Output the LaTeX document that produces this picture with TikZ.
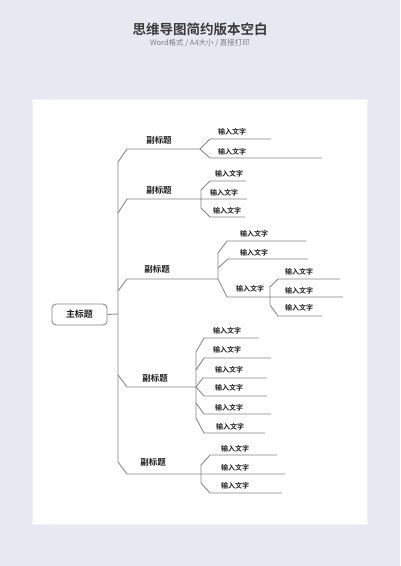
\documentclass[tikz,border=0pt]{standalone}
\usepackage{fontspec}
\newfontfamily\cjk{Noto Sans CJK SC}[BoldFont={Noto Sans CJK SC Bold}]
\definecolor{bgc}{HTML}{E7E9F0}
\definecolor{linec}{HTML}{858585}
\definecolor{txt}{HTML}{1E1E1E}
\definecolor{titlec}{HTML}{3A3A3A}
\definecolor{subc}{HTML}{7E7E7E}
\tikzset{
  conn/.style={draw=linec, line width=0.85pt, line join=round},
  leaf/.style={font=\cjk\bfseries\fontsize{7}{8}\selectfont, text=txt, inner sep=0pt},
  sub/.style={font=\cjk\bfseries\fontsize{8.5}{9}\selectfont, text=txt, inner sep=0pt},
  mainbox/.style={draw=linec, line width=0.85pt, rounded corners=4pt, fill=white,
    minimum width=55pt, minimum height=21pt, font=\cjk\bfseries\fontsize{9}{10}\selectfont, text=txt}
}
\begin{document}
\begin{tikzpicture}[x=1pt,y=-1pt]
\useasboundingbox (0,0) rectangle (400,566);
\fill[bgc] (0,0) rectangle (400,566);
\fill[black!6] (32,99) rectangle (368,525);
\fill[white] (33,100) rectangle (367,524);
% titles
\node[font=\cjk\bfseries\fontsize{13.5}{14}\selectfont, text=titlec] (title) at (200,29) {思维导图简约版本空白};
\node[font=\cjk\fontsize{7.5}{8}\selectfont, text=subc] (subtitle) at (200,43) {Word格式 / A4大小 / 直接打印};
% main
\node[mainbox] (main) at (79.5,314.5) {主标题};
\coordinate (tm) at (118,314);
\coordinate (ttop) at (118,162);
\coordinate (tbot) at (118,462);
\draw[conn] (main.east) -- (tm);
% trunk with branch 1 and 5
\coordinate (J1) at (200,149);
\coordinate (J5) at (201,474);
\coordinate (E52) at (285,474);
\draw[conn] (J1) -- (127,149) -- (ttop) -- (tbot) -- (127,474) -- (J5) -- (E52);
\node[sub] (s1) at (159,140.5) {副标题};
\node[sub] (s5) at (153,462.5) {副标题};
% branch 1 children
\coordinate (E11) at (271,139);
\coordinate (E12) at (322,158);
\draw[conn] (J1) -- (210,139) -- (E11);
\draw[conn] (J1) -- (210,158) -- (E12);
\node[leaf] (l11) at (232,131.5) {输入文字};
\node[leaf] (l12) at (232,151.5) {输入文字};
% branch 2
\coordinate (b2) at (118,213);
\coordinate (J2) at (201,199);
\coordinate (E22) at (247,199);
\coordinate (E21) at (246,181);
\coordinate (E23) at (245,217);
\draw[conn] (b2) -- (127,199) -- (J2) -- (E22);
\draw[conn] (J2) -- (201,190) -- (210,181) -- (E21);
\draw[conn] (J2) -- (201,208) -- (210,217) -- (E23);
\node[sub] (s2) at (159,190.5) {副标题};
\node[leaf] (l21) at (229,173.5) {输入文字};
\node[leaf] (l22) at (224,192.5) {输入文字};
\node[leaf] (l23) at (227,210.5) {输入文字};
% branch 3
\coordinate (b3) at (118,291);
\coordinate (J3) at (218,279);
\coordinate (E31) at (306,241);
\coordinate (E32) at (308,259);
\coordinate (J33) at (270,297);
\coordinate (G2) at (343,297);
\coordinate (G1) at (340,279);
\coordinate (G3) at (322,316);
\draw[conn] (b3) -- (127,279) -- (J3);
\draw[conn] (J3) -- (218,253) -- (227,241) -- (E31);
\draw[conn] (218,268) -- (228,259) -- (E32);
\draw[conn] (J3) -- (227,297) -- (J33) -- (G2);
\draw[conn] (J33) -- (270,287) -- (278,279) -- (G1);
\draw[conn] (J33) -- (270,305) -- (278,316) -- (G3);
\node[sub] (s3) at (157,269.5) {副标题};
\node[leaf] (l31) at (254,233.5) {输入文字};
\node[leaf] (l32) at (254,252.5) {输入文字};
\node[leaf] (l33) at (250,288.5) {输入文字};
\node[leaf] (g31) at (299,271.5) {输入文字};
\node[leaf] (g32) at (299,290.5) {输入文字};
\node[leaf] (g33) at (299,307.5) {输入文字};
% branch 4
\coordinate (b4) at (118,375);
\coordinate (J4) at (196,387);
\coordinate (E41) at (259,338);
\coordinate (E42) at (271,358);
\coordinate (E43) at (267,378);
\coordinate (E44) at (267,396);
\coordinate (E45) at (271,414);
\coordinate (E46) at (265,433);
\draw[conn] (b4) -- (127,387) -- (J4);
\draw[conn] (J4) -- (196,352) -- (204,338) -- (E41);
\draw[conn] (196,370) -- (204,358) -- (E42);
\draw[conn] (J4) -- (203,378) -- (E43);
\draw[conn] (J4) -- (204,396) -- (E44);
\draw[conn] (J4) -- (196,418) -- (204,433) -- (E46);
\draw[conn] (196,403) -- (204,414) -- (E45);
\node[sub] (s4) at (155,378.5) {副标题};
\node[leaf] (l41) at (227,330.5) {输入文字};
\node[leaf] (l42) at (227,349.5) {输入文字};
\node[leaf] (l43) at (229,369.5) {输入文字};
\node[leaf] (l44) at (229,387.5) {输入文字};
\node[leaf] (l45) at (229,407.5) {输入文字};
\node[leaf] (l46) at (230,426.5) {输入文字};
% branch 5 children
\coordinate (E51) at (277,455);
\coordinate (E53) at (282,493);
\draw[conn] (J5) -- (201,465) -- (210,455) -- (E51);
\draw[conn] (J5) -- (201,483) -- (210,493) -- (E53);
\node[leaf] (l51) at (235,448.5) {输入文字};
\node[leaf] (l52) at (235,467.5) {输入文字};
\node[leaf] (l53) at (235,485.5) {输入文字};
\end{tikzpicture}
\end{document}
